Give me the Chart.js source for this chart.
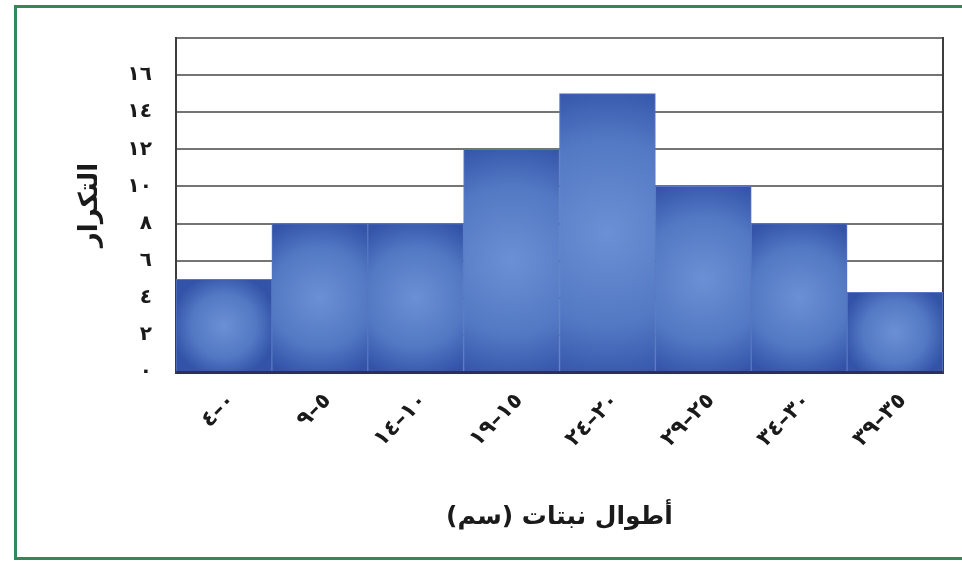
<!DOCTYPE html>
<html>
<head>
<meta charset="utf-8">
<script src="https://cdn.jsdelivr.net/npm/chart.js@4/dist/chart.umd.min.js"></script>
<style>
    html, body { margin: 0; padding: 0; background: #fff; }
    #frame {
        position: absolute; left: 14px; top: 5px;
        width: 960px; height: 549px;
        border: 3px solid #2f8a58; border-right: none;
    }
    #wrap { position: absolute; left: 0; top: 0; width: 962px; height: 562px; }
</style>
</head>
<body>
<div id="frame"></div>
<div id="wrap"><canvas id="histChart" width="962" height="562"></canvas></div>
<script>
// plant heights histogram (Arabic labels)
var categories = ['٠–٤', '٥–٩', '١٠–١٤', '١٥–١٩', '٢٠–٢٤', '٢٥–٢٩', '٣٠–٣٤', '٣٥–٣٩'];
var frequencies = [5, 8, 8, 12, 15, 10, 8, 4.3];
var yTickValues = [0, 2, 4, 6, 8, 10, 12, 14, 16];
var yTickLabels = ['٠', '٢', '٤', '٦', '٨', '١٠', '١٢', '١٤', '١٦'];
var xTitle = 'أطوال نبتات (سم)';
var yTitle = 'التكرار';

(function () {
    var palette = {
        barLight: '#6b90d4',
        barMid:   '#5379c4',
        barDark:  '#3353a8',
        barEdge:  '#5676bf',
        grid:     '#747474',
        frame:    '#3d3d3d',
        axis:     '#2b305a',
        text:     '#1a1a1a'
    };

    Chart.defaults.font.family = "'DejaVu Sans', sans-serif";
    Chart.defaults.color = palette.text;

    function barFill(c) {
        var chart = c.chart;
        var area = chart.chartArea;
        if (!area || c.dataIndex === undefined) return palette.barMid;
        var xs = chart.scales.x, ys = chart.scales.y;
        var cx = xs.getPixelForValue(c.dataIndex);
        var half = (xs.width / categories.length) / 2;
        var top = ys.getPixelForValue(frequencies[c.dataIndex]);
        var cy = (top + area.bottom) / 2;
        var r = Math.max(half, (area.bottom - top) / 2) * 1.1;
        var g = chart.ctx.createRadialGradient(cx, cy, 0, cx, cy, r);
        g.addColorStop(0, palette.barLight);
        g.addColorStop(0.6, palette.barMid);
        g.addColorStop(1, palette.barDark);
        return g;
    }

    new Chart(document.getElementById('histChart'), {
        type: 'bar',
        data: {
            labels: categories,
            datasets: [{
                data: frequencies,
                backgroundColor: barFill,
                borderColor: palette.barEdge,
                borderWidth: 1,
                borderSkipped: 'bottom',
                barPercentage: 1,
                categoryPercentage: 1
            }]
        },
        options: {
            responsive: false,
            animation: false,
            layout: { padding: { left: 70, right: 19, top: 38, bottom: 20 } },
            plugins: { legend: { display: false }, tooltip: { enabled: false } },
            scales: {
                x: {
                    grid: { display: false },
                    border: { display: true, color: palette.axis, width: 3 },
                    ticks: {
                        font: { size: 22, weight: 'bold' },
                        minRotation: 45, maxRotation: 45,
                        padding: 8,
                        labelOffset: 8
                    },
                    title: {
                        display: true, text: xTitle,
                        font: { size: 25, weight: 'bold' },
                        padding: { top: 0, bottom: 10 }
                    },
                    afterFit: function (s) { s.height = 170; }
                },
                y: {
                    min: 0, max: 18,
                    afterBuildTicks: function (s) {
                        s.ticks = yTickValues.concat([18]).map(function (v) { return { value: v }; });
                    },
                    grid: { color: palette.grid, lineWidth: 2, drawTicks: false },
                    border: { display: true, color: palette.frame, width: 2 },
                    ticks: {
                        font: { size: 20, weight: 'bold' },
                        padding: 24,
                        callback: function (v) {
                            var i = yTickValues.indexOf(v);
                            return i < 0 ? '' : yTickLabels[i];
                        }
                    },
                    title: {
                        display: true, text: yTitle,
                        font: { size: 26, weight: 'bold' },
                        padding: { top: 5, bottom: 0 }
                    },
                    afterFit: function (s) { s.width = 106; }
                },
                y2: {
                    position: 'right',
                    min: 0, max: 18,
                    grid: { display: false, drawTicks: false },
                    border: { display: true, color: palette.frame, width: 2 },
                    ticks: { display: false },
                    afterFit: function (s) { s.width = 0; }
                }
            }
        }
    });
})();
</script>
</body>
</html>
